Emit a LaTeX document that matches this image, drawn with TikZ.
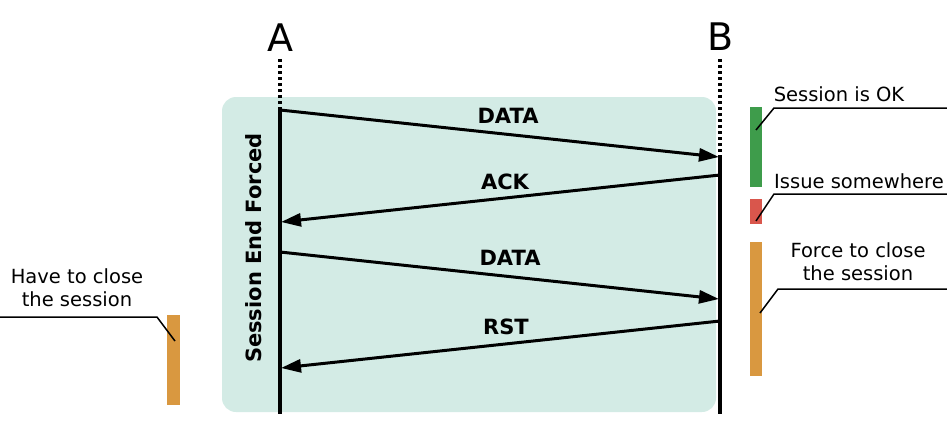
\documentclass[tikz,border=0pt]{standalone}
\usepackage{fontspec}
\setmainfont{DejaVu Sans}
\usetikzlibrary{arrows.meta}
\definecolor{boxteal}{HTML}{D3EBE5}
\definecolor{okgreen}{HTML}{3E9C4B}
\definecolor{issuered}{HTML}{D9564C}
\definecolor{closeorange}{HTML}{D99840}
\tikzset{
  lifeline/.style={line width=4.5pt},
  dotline/.style={line width=4.5pt, dash pattern=on 3pt off 3pt},
  msg/.style={line width=3pt, -{Triangle[length=20pt,width=13pt]}},
  msglabel/.style={font=\bfseries\fontsize{21}{24}\selectfont, inner sep=0pt},
  party/.style={font=\fontsize{38}{40}\selectfont, inner sep=0pt},
  callout/.style={line width=1.5pt},
  note/.style={font=\fontsize{19.5}{23}\selectfont, align=center, inner sep=0pt},
}
\begin{document}
\begin{tikzpicture}[x=1pt,y=-1pt]
\useasboundingbox (0,0) rectangle (947,420);
% background box
\fill[boxteal, rounded corners=14pt] (222,97) rectangle (716,412);
% parties
\node[party] (A) at (280,38) {A};
\node[party] (B) at (721,37) {B};
% lifelines
\coordinate (Adot) at (280,59);
\coordinate (Atop) at (280,107);
\coordinate (Abot) at (280,414);
\coordinate (Bdot) at (720,59);
\coordinate (Btop) at (720,155);
\coordinate (Bbot) at (720,414);
\draw[dotline] (Adot) -- (Atop);
\draw[dotline] (Bdot) -- (Btop);
\draw[lifeline] (Atop) -- (Abot);
\draw[lifeline] (Btop) -- (Bbot);
% messages
\coordinate (m1s) at (280,110); \coordinate (m1e) at (719,157);
\coordinate (m2s) at (720,175); \coordinate (m2e) at (281,222);
\coordinate (m3s) at (280,252); \coordinate (m3e) at (719,299);
\coordinate (m4s) at (720,321); \coordinate (m4e) at (281,368);
\draw[msg] (m1s) -- (m1e);
\draw[msg] (m2s) -- (m2e);
\draw[msg] (m3s) -- (m3e);
\draw[msg] (m4s) -- (m4e);
\node[msglabel] (l1) at (508,116) {DATA};
\node[msglabel] (l2) at (505,182) {ACK};
\node[msglabel] (l3) at (510,258) {DATA};
\node[msglabel] (l4) at (506,327) {RST};
% side label
\node[msglabel, rotate=90] (sef) at (254,248) {Session End Forced};
% status bars
\fill[okgreen] (750,107) rectangle (762,187);
\fill[issuered] (750,199) rectangle (762,224);
\fill[closeorange] (750,242) rectangle (762,376);
\fill[closeorange] (167,315) rectangle (180,405);
\coordinate (gbar) at (756,130);
\coordinate (rbar) at (756,221);
\coordinate (obar) at (760,313);
\coordinate (lbar) at (175,341);
% callouts
\node[note] (n1) at (839,94) {Session is OK};
\node[note] (n2) at (859,181) {Issue somewhere};
\node[note] (n3) at (858,262) {Force to close\\the session};
\node[note] (n4) at (77,288) {Have to close\\the session};
\draw[callout] (gbar) -- (774,108) -- (947,108);
\draw[callout] (rbar) -- (774,194) -- (947,194);
\draw[callout] (obar) -- (778,289) -- (947,289);
\draw[callout] (lbar) -- (157,317) -- (0,317);
\end{tikzpicture}
\end{document}
